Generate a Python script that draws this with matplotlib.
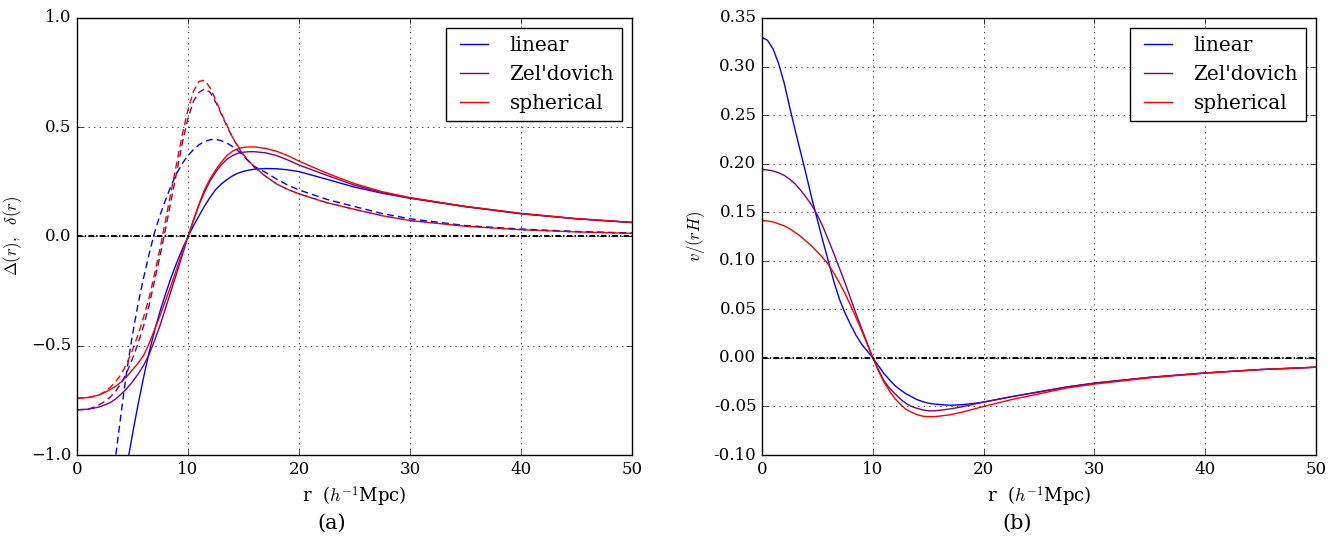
import numpy as np
import matplotlib
matplotlib.use("Agg")
from matplotlib import pyplot as plt
from matplotlib.ticker import FormatStrFormatter

nan = np.nan

# radius grid, h^-1 Mpc
r = [0, 0.5, 1, 1.5, 2, 2.5, 3, 3.5, 4, 4.5, 5, 5.5, 6, 6.5, 7, 7.5, 8, 8.5, 9, 9.5,
     10, 10.5, 11, 11.5, 12, 12.5, 13, 13.5, 14, 14.5, 15, 15.5, 16,
     17, 18, 19, 20, 22.5, 25, 27.5, 30, 35, 40, 45, 50]

# (a) mean density contrast Delta(r) (solid) and local delta(r) (dashed)
Delta_linear = [nan, nan, nan, nan, nan, nan, nan, nan, -1.19, -1.05, -0.905, -0.77, -0.645, -0.53, -0.43,
                -0.34, -0.26, -0.185, -0.118, -0.057,
                0.0, 0.05, 0.095, 0.14, 0.18, 0.215, 0.24, 0.26, 0.277, 0.29, 0.298, 0.304, 0.308,
                0.311, 0.31, 0.305, 0.297, 0.262, 0.226, 0.198, 0.176, 0.137, 0.104, 0.081, 0.064]
Delta_zeldovich = [-0.793, -0.792, -0.79, -0.786, -0.78, -0.771, -0.76, -0.743, -0.72, -0.695, -0.665,
                   -0.63, -0.59, -0.54, -0.475, -0.405, -0.325, -0.245, -0.165, -0.083,
                   0.0, 0.075, 0.145, 0.205, 0.255, 0.295, 0.328, 0.353, 0.37, 0.381, 0.386, 0.388, 0.388,
                   0.383, 0.37, 0.35, 0.327, 0.28, 0.235, 0.20, 0.175, 0.136, 0.105, 0.081, 0.064]
Delta_spherical = [-0.74, -0.739, -0.737, -0.732, -0.725, -0.714, -0.70, -0.685, -0.665, -0.64, -0.61,
                   -0.58, -0.545, -0.49, -0.425, -0.36, -0.29, -0.22, -0.145, -0.073,
                   0.0, 0.075, 0.15, 0.215, 0.265, 0.305, 0.34, 0.37, 0.39, 0.402, 0.408, 0.41, 0.41,
                   0.403, 0.39, 0.37, 0.345, 0.29, 0.242, 0.205, 0.178, 0.138, 0.106, 0.082, 0.065]
delta_linear = [nan, nan, nan, nan, nan, nan, -1.2, -1.0, -0.80, -0.61, -0.45, -0.31, -0.19, -0.08, 0.02,
                0.10, 0.17, 0.235, 0.29, 0.335,
                0.37, 0.398, 0.42, 0.435, 0.443, 0.445, 0.438, 0.428, 0.412, 0.393, 0.37, 0.343, 0.32,
                0.293, 0.262, 0.235, 0.213, 0.17, 0.137, 0.105, 0.081, 0.05, 0.034, 0.023, 0.016]
delta_zeldovich = [-0.793, -0.792, -0.79, -0.782, -0.77, -0.755, -0.735, -0.707, -0.67, -0.62, -0.56,
                   -0.49, -0.41, -0.315, -0.20, -0.085, 0.04, 0.17, 0.30, 0.43,
                   0.54, 0.62, 0.66, 0.675, 0.66, 0.615, 0.56, 0.505, 0.455, 0.41, 0.372, 0.342, 0.316,
                   0.275, 0.24, 0.215, 0.195, 0.155, 0.124, 0.095, 0.073, 0.047, 0.031, 0.021, 0.0145]
delta_spherical = [-0.74, -0.739, -0.737, -0.732, -0.725, -0.71, -0.69, -0.663, -0.63, -0.58, -0.52,
                   -0.45, -0.37, -0.28, -0.17, -0.05, 0.08, 0.21, 0.34, 0.47,
                   0.58, 0.665, 0.71, 0.715, 0.68, 0.625, 0.565, 0.51, 0.455, 0.415, 0.375, 0.345, 0.318,
                   0.275, 0.24, 0.215, 0.195, 0.155, 0.124, 0.095, 0.073, 0.047, 0.031, 0.021, 0.0145]

# (b) peculiar velocity v/(rH)
v_linear = [0.330, 0.327, 0.318, 0.303, 0.283, 0.258, 0.234, 0.211, 0.188, 0.164, 0.142,
            0.12, 0.099, 0.078, 0.06, 0.046, 0.034, 0.023, 0.014, 0.007,
            0.0, -0.008, -0.016, -0.0225, -0.0286, -0.033, -0.037, -0.040, -0.043, -0.045, -0.0466,
            -0.0475, -0.048, -0.0488, -0.0483, -0.047, -0.0455,
            -0.040, -0.035, -0.030, -0.026, -0.020, -0.0155, -0.012, -0.0096]
v_zeldovich = [0.194, 0.1935, 0.1925, 0.1905, 0.188, 0.184, 0.179, 0.1725, 0.165, 0.157, 0.147,
               0.135, 0.121, 0.107, 0.092, 0.077, 0.061, 0.045, 0.030, 0.015,
               0.0, -0.012, -0.0235, -0.031, -0.037, -0.0425, -0.047, -0.050, -0.052, -0.0535, -0.0545,
               -0.0545, -0.054, -0.0525, -0.0505, -0.048, -0.0455,
               -0.040, -0.035, -0.030, -0.026, -0.020, -0.0155, -0.012, -0.0096]
v_spherical = [0.1414, 0.141, 0.140, 0.138, 0.136, 0.133, 0.129, 0.125, 0.120, 0.115, 0.109,
               0.103, 0.096, 0.087, 0.077, 0.066, 0.054, 0.041, 0.028, 0.014,
               0.0, -0.013, -0.025, -0.034, -0.042, -0.048, -0.053, -0.056, -0.0585, -0.060, -0.0605,
               -0.0605, -0.060, -0.0585, -0.056, -0.053, -0.050,
               -0.043, -0.037, -0.031, -0.027, -0.0205, -0.0157, -0.012, -0.0096]

labels = ["linear", "Zel'dovich", "spherical"]
colors = ["b", "purple", "r"]

plt.style.use("classic")
plt.rcParams["figure.facecolor"] = "white"
plt.rcParams["savefig.facecolor"] = "white"
plt.rcParams["font.family"] = "serif"
plt.rcParams["font.serif"] = ["DejaVu Serif"]
plt.rcParams["mathtext.fontset"] = "cm"

fig = plt.figure(figsize=(13.43, 5.4), dpi=100)
ax1 = fig.add_axes([0.0573, 0.1574, 0.4133, 0.8093])
ax2 = fig.add_axes([0.5674, 0.1574, 0.4125, 0.8093])

zero_dash = (4, 1.6, 1, 1.6)

# left panel
for y, c, lab in zip([Delta_linear, Delta_zeldovich, Delta_spherical], colors, labels):
    ax1.plot(r, y, color=c, lw=1.0, label=lab)
for y, c in zip([delta_linear, delta_zeldovich, delta_spherical], colors):
    ax1.plot(r, y, color=c, lw=1.0, dashes=(5, 3))
ax1.axhline(0, color="k", lw=1.5, dashes=zero_dash)
ax1.set_xlim(0, 50)
ax1.set_ylim(-1.0, 1.0)
ax1.set_yticks([-1.0, -0.5, 0.0, 0.5, 1.0])
ax1.grid(True)
ax1.set_xlabel(r"r  ($h^{-1}$Mpc)", fontsize=13)
ax1.set_ylabel(r"$\Delta(r),\ \ \delta(r)$", fontsize=12)
ax1.legend(loc="upper right")

# right panel
for y, c, lab in zip([v_linear, v_zeldovich, v_spherical], colors, labels):
    ax2.plot(r, y, color=c, lw=1.0, label=lab)
ax2.axhline(0, color="k", lw=1.5, dashes=zero_dash)
ax2.set_xlim(0, 50)
ax2.set_ylim(-0.10, 0.35)
ax2.set_yticks(np.arange(-0.10, 0.351, 0.05))
ax2.yaxis.set_major_formatter(FormatStrFormatter("%.2f"))
ax2.grid(True)
ax2.set_xlabel(r"r  ($h^{-1}$Mpc)", fontsize=13)
ax2.set_ylabel(r"$v/(rH)$", fontsize=12)
ax2.legend(loc="upper right")

fig.text(332 / 1343, 1 - 523 / 540, "(a)", ha="center", va="center", fontsize=15)
fig.text(1017 / 1343, 1 - 523 / 540, "(b)", ha="center", va="center", fontsize=15)

fig.savefig("out.png", dpi=100)
